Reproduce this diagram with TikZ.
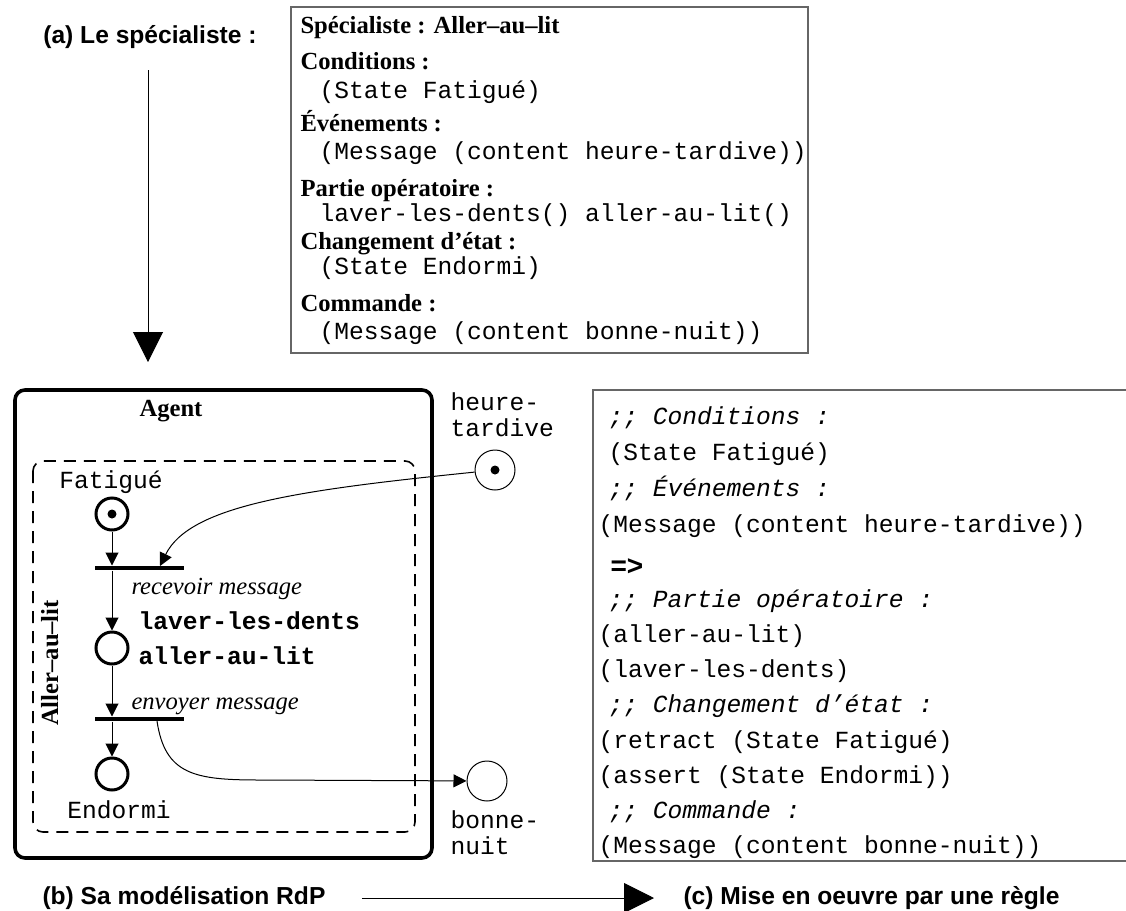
\documentclass[tikz,border=0pt]{standalone}
\usepackage{fontspec}
\setmainfont{Liberation Serif}
\setsansfont{Liberation Sans}
\setmonofont{Liberation Mono}
\usetikzlibrary{arrows.meta, calc}

\newcommand\fsz{\fontsize{12.3}{13}\selectfont}

\begin{document}
\begin{tikzpicture}[
  x=0.5pt, y=-0.5pt,
  >={Triangle[length=6.5pt, width=6.5pt]}, line width=0.5pt,
  big/.style={-{Triangle[length=15pt, width=15pt]}},
  frame/.style={draw=black!60, line width=0.8pt},
  head/.style={inner sep=0pt, anchor=west, font=\fsz\bfseries, text height=8.5pt, text depth=2.5pt},
  mono/.style={inner sep=0pt, anchor=west, font=\fsz\ttfamily, text height=8.5pt, text depth=2.5pt},
  bmono/.style={mono, font=\fsz\ttfamily\bfseries},
  cmt/.style={mono, font=\fsz\ttfamily\itshape},
  itl/.style={inner sep=0pt, anchor=west, font=\fsz\itshape, text height=8.5pt, text depth=2.5pt},
  lbl/.style={inner sep=0pt, anchor=west, align=left, font=\fsz\ttfamily},
  capt/.style={inner sep=0pt, font=\fsz\sffamily\bfseries},
  place/.style={circle, draw, line width=1.5pt, minimum size=16pt, inner sep=0pt},
  ext/.style={circle, draw, minimum size=20pt, inner sep=0pt},
  token/.style={circle, fill, minimum size=4.5pt, inner sep=0pt},
  bar/.style={fill, minimum width=44.5pt, minimum height=2pt, inner sep=0pt}]

  \useasboundingbox (0,0) rectangle (1126,911);

  % (a) le specialiste
  \node[capt] (capa) at (150,37) {(a) Le spécialiste :};
  \coordinate (a0) at (148,70);
  \coordinate (a1) at (148,362);
  \draw[big] (a0) -- (a1);

  \draw[frame] (291,7) rectangle (808,353);
  \node[head] (sp)  at (300,27)  {Spécialiste : Aller–au–lit};
  \node[head] (co)  at (300,63)  {Conditions :};
  \node[mono] (co1) at (319,92)  {(State Fatigué)};
  \node[head] (ev)  at (300,125) {Événements :};
  \node[mono] (ev1) at (319,153) {(Message (content heure-tardive))};
  \node[head] (po)  at (300,190) {Partie opératoire :};
  \node[mono] (po1) at (319,215) {laver-les-dents() aller-au-lit()};
  \node[head] (ch)  at (300,243) {Changement d’état :};
  \node[mono] (ch1) at (319,268) {(State Endormi)};
  \node[head] (cm)  at (300,305) {Commande :};
  \node[mono] (cm1) at (319,333) {(Message (content bonne-nuit))};

  % (b) agent et reseau de Petri
  \draw[line width=1.8pt, rounded corners=5pt] (15,390) rectangle (432,858);
  \node[head, anchor=center] (ag) at (171,410) {Agent};
  \draw[dash pattern=on 6pt off 4pt, line width=0.8pt, rounded corners=5pt]
    (33,461) rectangle (415,832);
  \node[head, anchor=center, rotate=90] (al) at (52,663) {Aller–au–lit};

  \node[place] (fat) at (112,514) {};
  \node[token] (tkf) at (fat) {};
  \node[mono, anchor=center] (lfat) at (111,482) {Fatigué};
  \node[bar] (recv) at (139.5,568) {};
  \node[itl] (lrecv) at (131,588) {recevoir message};
  \node[place] (op) at (112,648) {};
  \node[bmono] (lav) at (138,623) {laver-les-dents};
  \node[bmono] (lit) at (138,658) {aller-au-lit};
  \node[bar] (env) at (139.5,719) {};
  \node[itl] (lenv) at (131,703) {envoyer message};
  \node[place] (endo) at (112,774) {};
  \node[mono, anchor=center] (lendo) at (119,812) {Endormi};

  \draw[->] (fat) -- (fat |- recv.north);
  \draw[->] (fat |- recv.south) -- (op);
  \draw[->] (op) -- (op |- env.north);
  \draw[->] (op |- env.south) -- (endo);

  % messages
  \node[ext] (ht) at (495,470) {};
  \node[token] (tkh) at (ht) {};
  \node[lbl] (lht) at (450,415) {heure-\\tardive};
  \node[ext] (bn) at (487,781) {};
  \node[lbl] (lbn) at (450,833) {bonne-\\nuit};

  \coordinate (rin) at (160,566);
  \draw[->] (ht) .. controls (300,490) and (190,505) .. (rin);
  \coordinate (eout) at (157,721);
  \draw[->] (eout) .. controls (165,775) and (195,780) .. (260,780) -- (bn);

  % (c) regle
  \draw[frame] (1130,390) -| (593,861) -- (1130,861);
  \node[cmt]  (r1)  at (608,418) {;; Conditions :};
  \node[mono] (r2)  at (608,454) {(State Fatigué)};
  \node[cmt]  (r3)  at (608,490) {;; Événements :};
  \node[mono] (r4)  at (598,526) {(Message (content heure-tardive))};
  \node[inner sep=0pt, anchor=west, font=\fontsize{14}{16}\selectfont\sffamily\bfseries] (r5) at (610,567) {=>};
  \node[cmt]  (r6)  at (608,601) {;; Partie opératoire :};
  \node[mono] (r7)  at (598,636) {(aller-au-lit)};
  \node[mono] (r8)  at (598,671) {(laver-les-dents)};
  \node[cmt]  (r9)  at (608,706) {;; Changement d’état :};
  \node[mono] (r10) at (598,742) {(retract (State Fatigué)};
  \node[mono] (r11) at (598,777) {(assert (State Endormi))};
  \node[cmt]  (r12) at (608,812) {;; Commande :};
  \node[mono] (r13) at (598,847) {(Message (content bonne-nuit))};

  \node[capt, anchor=west] (capb) at (42,898) {(b) Sa modélisation RdP};
  \node[capt, anchor=west] (capc) at (683,898) {(c) Mise en oeuvre par une règle};
  \draw[big] ($(capb.east)+(36,0)$) -- ($(capc.west)+(-29,0)$);
\end{tikzpicture}
\end{document}
